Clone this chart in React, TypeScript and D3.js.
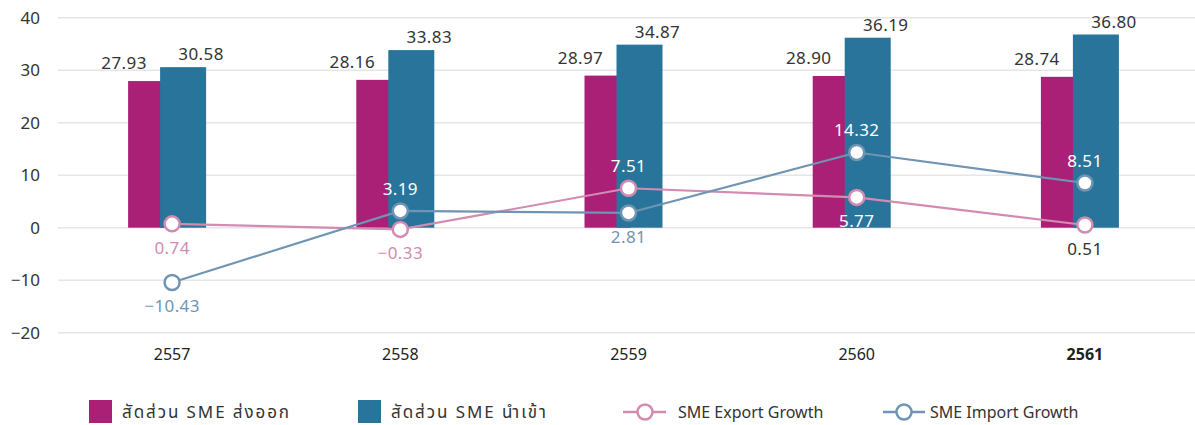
import * as d3 from "d3";

const years = ["2557", "2558", "2559", "2560", "2561"];
const exportShare = [27.93, 28.16, 28.97, 28.9, 28.74];
const importShare = [30.58, 33.83, 34.87, 36.19, 36.8];
const exportGrowth = [0.74, -0.33, 7.51, 5.77, 0.51];
const importGrowth = [-10.43, 3.19, 2.81, 14.32, 8.51];
const yTicks = [-20, -10, 0, 10, 20, 30, 40];

// where each growth label sits relative to its marker
const exportLabelSide = ["below", "below", "above", "below", "below"];
const importLabelSide = ["below", "above", "below", "above", "above"];

const W = 1195;
const H = 425;
const FONT = "'Noto Sans', 'Noto Sans Thai', sans-serif";

const MAGENTA = "#ab2077";
const BLUE = "#29749b";
const PINK = "#d48bb1";
const STEEL = "#7094b3";
const TEXT = "#333333";

export default function App() {
  const x = d3.scaleBand<string>().domain(years).range([58, 1199]);
  const y = d3.scaleLinear().domain([-20, 40]).range([332.7, 17.7]);
  const cx = (d: string) => (x(d) || 0) + x.bandwidth() / 2;

  const magX = (i: number) => cx(years[i]) - 44;
  const bluX = (i: number) => cx(years[i]) - 12;
  const barW = 46;

  const insideBar = (i: number, v: number, dy: number) => {
    const ly = y(v) + dy;
    return ly > y(exportShare[i]) && ly < y(0);
  };

  const line = d3
    .line<number>()
    .x((_, i) => cx(years[i]))
    .y((d) => y(d));

  const growthSeries = [
    { values: exportGrowth, color: PINK, sides: exportLabelSide },
    { values: importGrowth, color: STEEL, sides: importLabelSide },
  ];

  const fmt = (v: number) => (v < 0 ? "\u2212" + Math.abs(v).toFixed(2) : v.toFixed(2));

  return (
    <svg
      width={W}
      height={H}
      style={{ position: "absolute", left: 0, top: 0, background: "#fff" }}
      fontFamily={FONT}
    >
      {/* grid + y axis */}
      {yTicks.map((t) => (
        <g key={t}>
          <line x1={58} x2={W} y1={y(t)} y2={y(t)} stroke="#e6e6e6" strokeWidth={1.5} />
          <text x={40} y={y(t)} dy="0.35em" textAnchor="end" fontSize={17} fill={TEXT}>
            {t < 0 ? "\u2212" + Math.abs(t) : t}
          </text>
        </g>
      ))}

      {/* x labels */}
      {years.map((d, i) => (
        <text
          key={d}
          x={cx(d)}
          y={360}
          textAnchor="middle"
          fontSize={16}
          fill="#222"
          fontWeight={i === years.length - 1 ? "bold" : "normal"}
        >
          {d}
        </text>
      ))}

      {/* bars */}
      {years.map((d, i) => (
        <g key={d} fontSize={17} letterSpacing={0.4}>
          <rect x={magX(i)} width={barW} y={y(exportShare[i])} height={y(0) - y(exportShare[i])} fill={MAGENTA} />
          <rect x={bluX(i)} width={barW} y={y(importShare[i])} height={y(0) - y(importShare[i])} fill={BLUE} />
          <text x={magX(i) + barW / 2 - 27} y={y(exportShare[i]) - 12} textAnchor="middle" fill={TEXT}>
            {exportShare[i].toFixed(2)}
          </text>
          <text x={bluX(i) + barW / 2 + 18} y={y(importShare[i]) - 7} textAnchor="middle" fill={TEXT}>
            {importShare[i].toFixed(2)}
          </text>
        </g>
      ))}

      {/* growth lines */}
      {growthSeries.map((s, k) => (
        <g key={k}>
          <path d={line(s.values) || ""} fill="none" stroke={s.color} strokeWidth={2.2} />
          {s.values.map((v, i) => (
            <circle key={i} cx={cx(years[i])} cy={y(v)} r={7.5} fill="#fff" stroke={s.color} strokeWidth={2.5} />
          ))}
        </g>
      ))}
      {growthSeries.map((s, k) => (
        <g key={"l" + k} fontSize={17} letterSpacing={0.4}>
          {s.values.map((v, i) => {
            const dy = s.sides[i] === "above" ? -22 : 24;
            const inside = insideBar(i, v, dy);
            const col = inside ? "#fff" : k === 0 && i === years.length - 1 ? TEXT : s.color;
            return (
              <text key={i} x={cx(years[i])} y={y(v) + dy} dy="0.35em" textAnchor="middle" fill={col}>
                {fmt(v)}
              </text>
            );
          })}
        </g>
      ))}

      {/* legend */}
      <g fontSize={16} fill={TEXT}>
        <rect x={89} y={400} width={23} height={23} fill={MAGENTA} />
        <text x={122} y={412} dy="0.35em" fontSize={17} textLength={167} lengthAdjust="spacing">
          สัดส่วน SME ส่งออก
        </text>
        <rect x={358} y={400} width={23} height={23} fill={BLUE} />
        <text x={391} y={412} dy="0.35em" fontSize={17} textLength={155} lengthAdjust="spacing">
          สัดส่วน SME นำเข้า
        </text>
        <line x1={623} x2={666} y1={412} y2={412} stroke={PINK} strokeWidth={2.5} />
        <circle cx={645} cy={412} r={7.5} fill="#fff" stroke={PINK} strokeWidth={2.5} />
        <text x={678} y={412} dy="0.35em">SME Export Growth</text>
        <line x1={883} x2={925} y1={412} y2={412} stroke={STEEL} strokeWidth={2.5} />
        <circle cx={904} cy={412} r={7.5} fill="#fff" stroke={STEEL} strokeWidth={2.5} />
        <text x={930} y={412} dy="0.35em">SME Import Growth</text>
      </g>
    </svg>
  );
}
